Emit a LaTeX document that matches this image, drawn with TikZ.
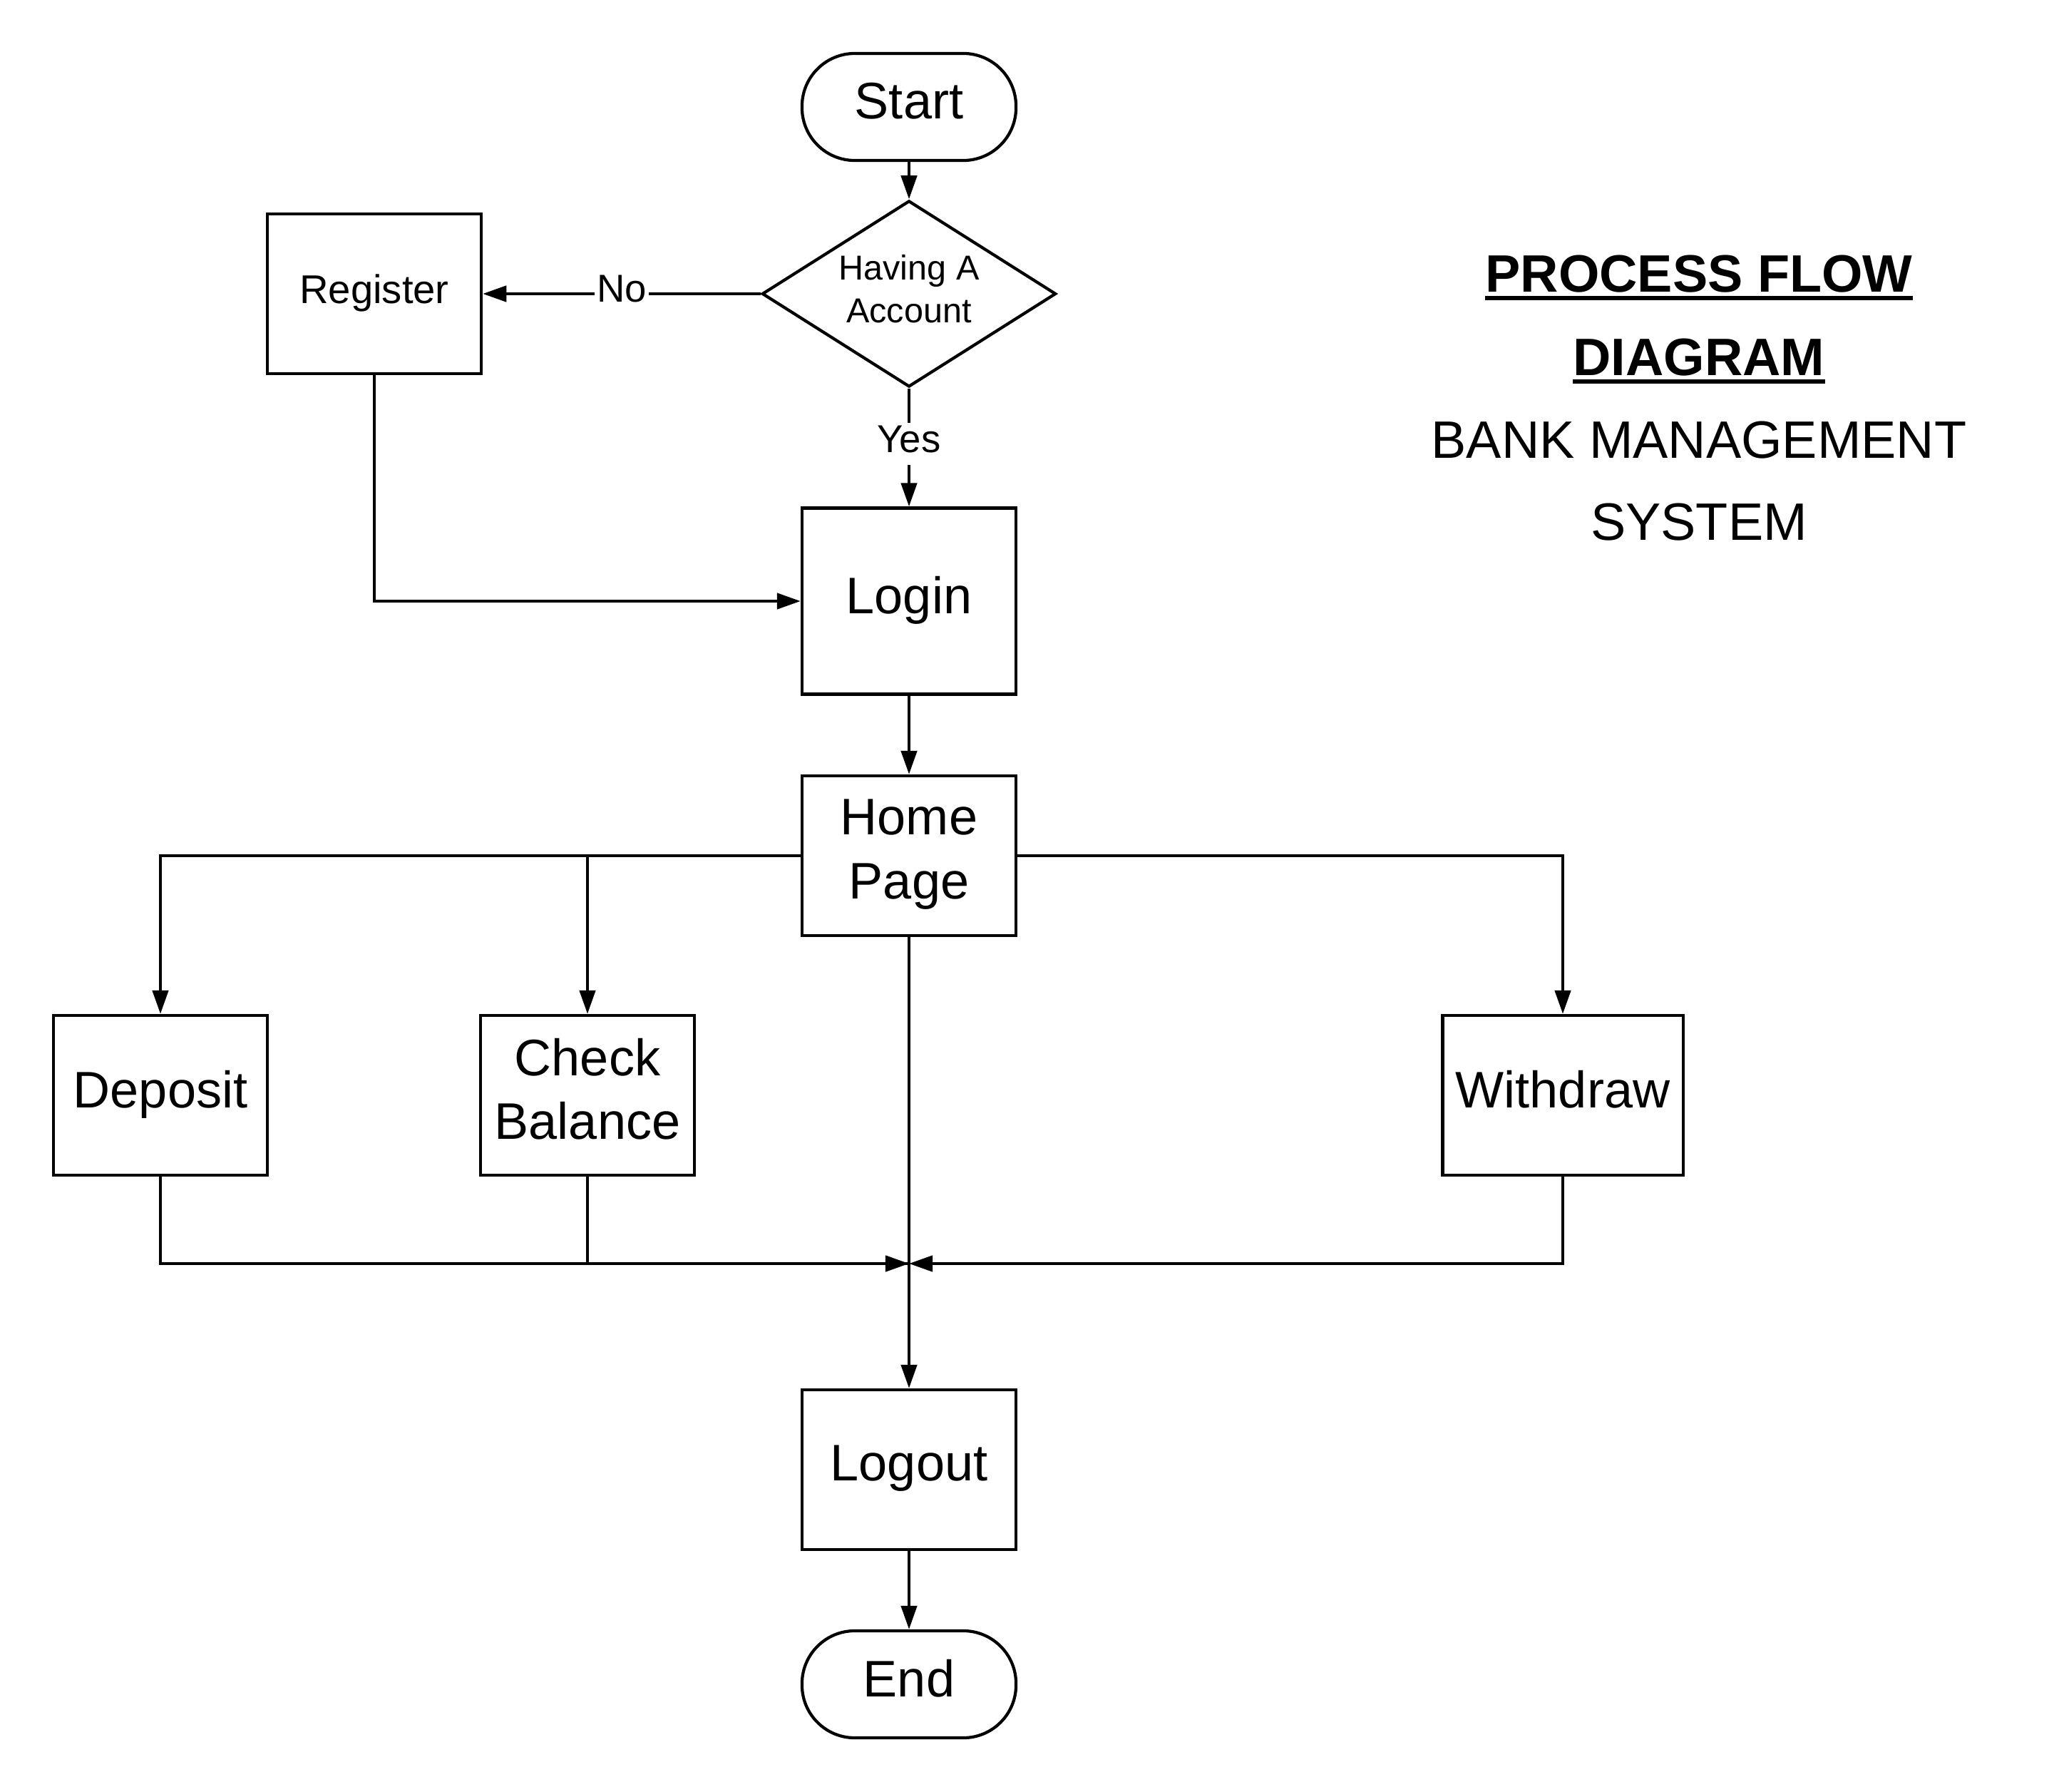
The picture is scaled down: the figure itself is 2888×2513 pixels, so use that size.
\documentclass[tikz,border=0pt]{standalone}
\usepackage{fontspec}
\setmainfont{Liberation Sans}
\usetikzlibrary{arrows.meta,shapes.geometric}
\tikzset{
  every picture/.style={x=0.01cm,y=-0.01cm},
  base/.style={draw,line width=1.2pt,inner sep=0pt,align=center},
  box/.style={base,rectangle,minimum width=3cm,minimum height=2.24cm,font=\fontsize{20.5}{25.5}\selectfont,text depth=5.1pt},
  term/.style={base,rectangle,rounded corners=0.74cm,minimum width=3cm,minimum height=1.5cm,font=\fontsize{20.5}{25.5}\selectfont,text depth=5.1pt},
  decision/.style={base,diamond,aspect=1.578,minimum width=4.12cm,minimum height=2.61cm,font=\fontsize{13.8}{17}\selectfont,text depth=4.1pt},
  conn/.style={line width=1.2pt},
  arr/.style={conn,-{Triangle[length=9.4pt,width=6.3pt]}},
  lbl/.style={fill=white,inner sep=1pt,font=\fontsize{15.5}{18}\selectfont,text depth=3.9pt},
  title/.style={inner sep=0pt,anchor=base,font=\fontsize{21}{25}\selectfont},
}
\begin{document}
\begin{tikzpicture}
\useasboundingbox (0,0) rectangle (2888,2513);
\node[term] (start) at (1275,150) {Start};
\node[decision] (dec) at (1275,412) {Having A\\Account};
\node[box,font=\fontsize{16}{19}\selectfont,text depth=4pt] (reg) at (525,412) {Register};
\node[box,minimum height=2.61cm] (login) at (1275,843) {Login};
\node[box] (home) at (1275,1200) {Home\\Page};
\node[box] (dep) at (225,1536) {Deposit};
\node[box] (chk) at (824,1536) {Check\\Balance};
\node[box,minimum width=3.37cm] (wd) at (2192,1536) {Withdraw};
\node[box] (logout) at (1275,2061) {Logout};
\node[term] (end) at (1275,2362) {End};
\coordinate (m) at (1275,1772);

\draw[arr] (start) -- (dec);
\draw[arr] (dec.west) -- node[lbl,pos=0.5] {No} (reg.east);
\draw[arr] (dec.south) -- node[lbl,pos=0.47] {Yes} (login.north);
\draw[arr] (reg.south) |- (login.west);
\draw[arr] (login) -- (home);
\draw[arr] (home.west) -| (dep.north);
\draw[arr] (home.west) -| (chk.north);
\draw[arr] (home.east) -| (wd.north);
\draw[arr] (home) -- (logout);
\draw[arr] (dep.south) |- (m);
\draw[conn] (chk.south) |- (m);
\draw[arr] (wd.south) |- (m);
\draw[arr] (logout) -- (end);

\node[title,font=\fontsize{21}{25}\selectfont\bfseries] (t1) at (2383,410) {PROCESS FLOW};
\node[title,font=\fontsize{21}{25}\selectfont\bfseries] (t2) at (2383,527) {DIAGRAM};
\node[title] (t3) at (2383,643) {BANK MANAGEMENT};
\node[title] (t4) at (2383,758) {SYSTEM};
\draw[line width=1.7pt] ([yshift=-2.3pt]t1.base west) -- ([yshift=-2.3pt]t1.base east);
\draw[line width=1.7pt] ([yshift=-2.3pt]t2.base west) -- ([yshift=-2.3pt]t2.base east);
\end{tikzpicture}
\end{document}
